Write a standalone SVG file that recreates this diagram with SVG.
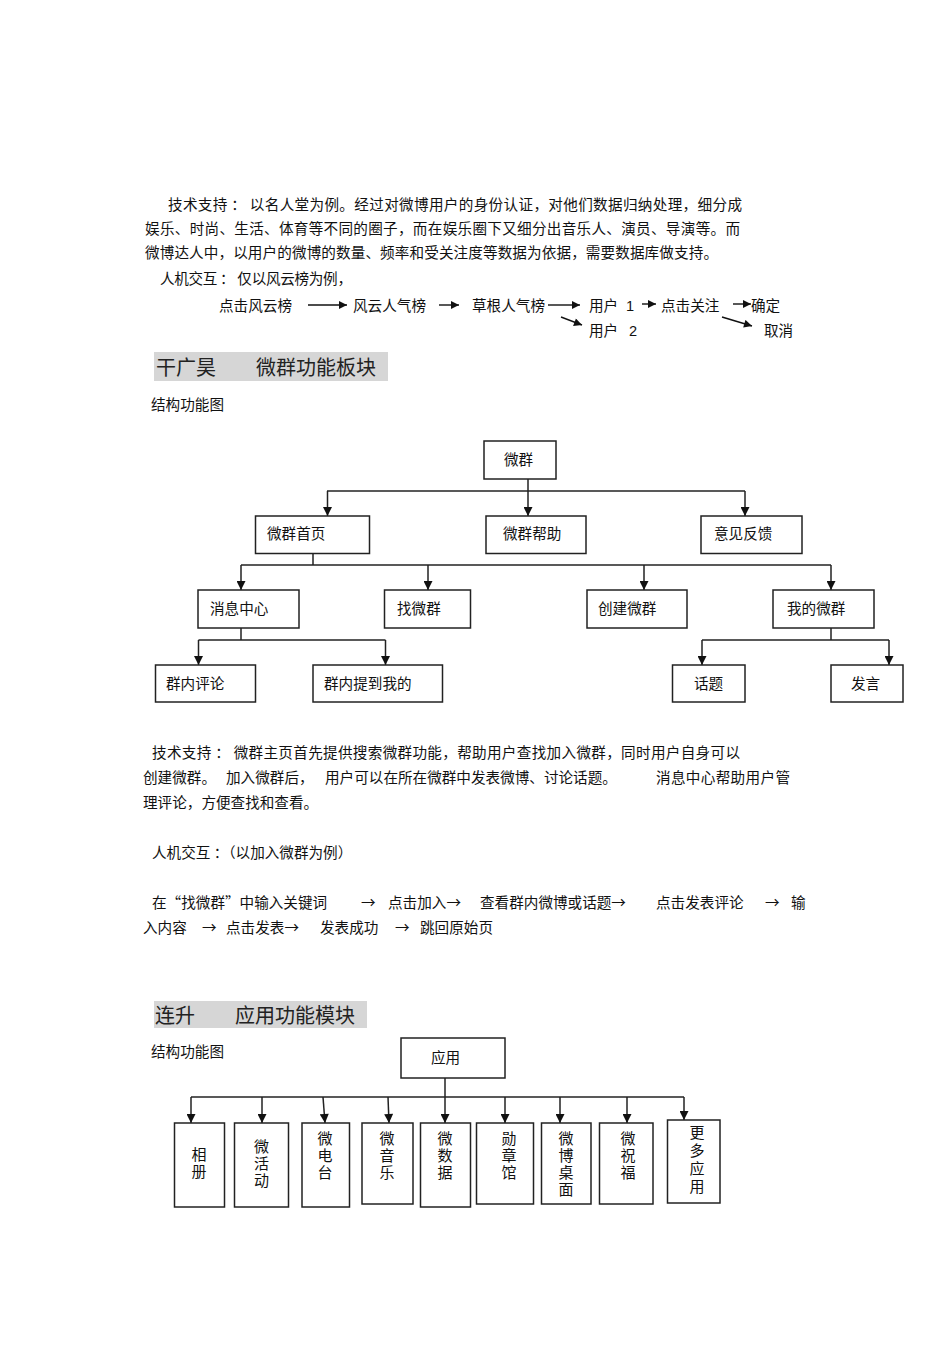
<svg xmlns="http://www.w3.org/2000/svg" width="950" height="1345" viewBox="0 0 950 1345">
<style>
  .t{font-family:"Liberation Sans","Noto Sans CJK SC",sans-serif;font-size:14.6px;fill:#111}
  .c{font-family:"Noto Sans CJK SC","Liberation Sans",sans-serif;font-size:14.6px;fill:#111}
  .h{font-family:"Noto Sans CJK SC",sans-serif;font-size:20px;fill:#222}
  .v{font-family:"Noto Sans CJK SC",sans-serif;font-size:15px;fill:#111;writing-mode:vertical-rl;letter-spacing:2px}
  .box{fill:#fff;stroke:#222;stroke-width:1.5}
  .ln{fill:none;stroke:#222;stroke-width:1.5}
  .fl{fill:none;stroke:#111;stroke-width:1.4}
  .hd{fill:#d6d6d6}
</style>
<defs>
  <marker id="ah" viewBox="0 0 10 10" refX="10" refY="5" markerWidth="11" markerHeight="9" markerUnits="userSpaceOnUse" orient="auto">
    <path d="M0,0 L10,5 L0,10 Z" fill="#111"/>
  </marker>
  <marker id="fa" viewBox="0 0 10 10" refX="10" refY="5" markerWidth="9" markerHeight="8" markerUnits="userSpaceOnUse" orient="auto">
    <path d="M0,0 L10,5 L0,10 Z" fill="#111"/>
  </marker>
</defs>

<!-- Paragraph 1 -->
<g id="para1">
  <text class="c" x="168" y="209.5" textLength="574" lengthAdjust="spacing">技术支持 ： 以名人堂为例。经过对微博用户的身份认证，对他们数据归纳处理，细分成</text>
  <text class="c" x="145" y="233.5" textLength="595" lengthAdjust="spacing">娱乐、时尚、生活、体育等不同的圈子，而在娱乐圈下又细分出音乐人、演员、导演等。而</text>
  <text class="c" x="145" y="257.5" textLength="573" lengthAdjust="spacing">微博达人中，以用户的微博的数量、频率和受关注度等数据为依据，需要数据库做支持。</text>
  <text class="c" x="160" y="283.5" textLength="192" lengthAdjust="spacing">人机交互 ： 仅以风云榜为例，</text>
</g>

<!-- Flow 1 -->
<g id="flow1">
  <text class="c" x="219" y="310.5">点击风云榜</text>
  <text class="c" x="353" y="310.5">风云人气榜</text>
  <text class="c" x="472" y="310.5">草根人气榜</text>
  <text class="c" x="589" y="310.5">用户</text>
  <text class="t" x="626" y="310.5">1</text>
  <text class="c" x="661" y="310.5">点击关注</text>
  <text class="c" x="751" y="310.5">确定</text>
  <text class="c" x="589" y="336">用户</text>
  <text class="t" x="629" y="336">2</text>
  <text class="c" x="764" y="336">取消</text>
</g>
<g id="flow1-arrows">
  <line class="fl" x1="308" y1="305" x2="347" y2="305" marker-end="url(#fa)"/>
  <line class="fl" x1="439" y1="305" x2="459" y2="305" marker-end="url(#fa)"/>
  <line class="fl" x1="548" y1="305" x2="580" y2="305" marker-end="url(#fa)"/>
  <line class="fl" x1="642" y1="304" x2="656" y2="304" marker-end="url(#fa)"/>
  <line class="fl" x1="733" y1="304" x2="751" y2="304" marker-end="url(#fa)"/>
  <line class="fl" x1="561" y1="317" x2="582" y2="325" marker-end="url(#fa)"/>
  <line class="fl" x1="722" y1="317" x2="752" y2="326" marker-end="url(#fa)"/>
</g>

<!-- Header 1 -->
<g id="header1">
  <rect class="hd" x="154" y="352" width="234" height="29"/>
  <text class="h" x="156" y="374.5">干广昊　　微群功能板块</text>
</g>
<text class="c" x="151" y="410">结构功能图</text>

<!-- Tree 1 connectors -->
<g id="connectors1">
  <line class="ln" x1="528" y1="479" x2="528" y2="491"/>
  <line class="ln" x1="327" y1="491" x2="745" y2="491"/>
  <line class="ln" x1="327.5" y1="491" x2="327.5" y2="516" marker-end="url(#ah)"/>
  <line class="ln" x1="528" y1="491" x2="528" y2="516" marker-end="url(#ah)"/>
  <line class="ln" x1="745" y1="491" x2="745" y2="516" marker-end="url(#ah)"/>

  <line class="ln" x1="313" y1="554" x2="313" y2="565"/>
  <line class="ln" x1="241" y1="565" x2="831" y2="565"/>
  <line class="ln" x1="241" y1="565" x2="241" y2="590" marker-end="url(#ah)"/>
  <line class="ln" x1="428" y1="565" x2="428" y2="590" marker-end="url(#ah)"/>
  <line class="ln" x1="644" y1="565" x2="644" y2="590" marker-end="url(#ah)"/>
  <line class="ln" x1="831" y1="565" x2="831" y2="590" marker-end="url(#ah)"/>

  <line class="ln" x1="241" y1="628" x2="241" y2="640"/>
  <line class="ln" x1="198.5" y1="640" x2="385.5" y2="640"/>
  <line class="ln" x1="198.5" y1="640" x2="198.5" y2="665" marker-end="url(#ah)"/>
  <line class="ln" x1="385.5" y1="640" x2="385.5" y2="665" marker-end="url(#ah)"/>

  <line class="ln" x1="831" y1="628" x2="831" y2="640"/>
  <line class="ln" x1="702" y1="640" x2="889" y2="640"/>
  <line class="ln" x1="702" y1="640" x2="702" y2="665" marker-end="url(#ah)"/>
  <line class="ln" x1="889" y1="640" x2="889" y2="665" marker-end="url(#ah)"/>
</g>

<!-- Tree 1 nodes -->
<g id="n-weiqun"><rect class="box" x="484" y="441" width="72" height="38"/><text class="c" x="504" y="464.5">微群</text></g>
<g id="n-shouye"><rect class="box" x="255.5" y="516" width="114" height="37.5"/><text class="c" x="267" y="538.5">微群首页</text></g>
<g id="n-bangzhu"><rect class="box" x="486" y="516" width="100" height="37.5"/><text class="c" x="503" y="538.5">微群帮助</text></g>
<g id="n-fankui"><rect class="box" x="701" y="516" width="101" height="37.5"/><text class="c" x="714" y="538.5">意见反馈</text></g>
<g id="n-xiaoxi"><rect class="box" x="198" y="590" width="101" height="38"/><text class="c" x="210" y="613.5">消息中心</text></g>
<g id="n-zhao"><rect class="box" x="384.5" y="590" width="86" height="38"/><text class="c" x="397" y="613.5">找微群</text></g>
<g id="n-chuangjian"><rect class="box" x="587" y="590" width="100" height="38"/><text class="c" x="598" y="613.5">创建微群</text></g>
<g id="n-wode"><rect class="box" x="773" y="590" width="101" height="38"/><text class="c" x="787" y="613.5">我的微群</text></g>
<g id="n-pinglun"><rect class="box" x="155.5" y="665" width="100" height="37"/><text class="c" x="166" y="689">群内评论</text></g>
<g id="n-tidao"><rect class="box" x="313" y="665" width="129.5" height="37"/><text class="c" x="324" y="689">群内提到我的</text></g>
<g id="n-huati"><rect class="box" x="672.5" y="665" width="72.5" height="37"/><text class="c" x="694" y="689">话题</text></g>
<g id="n-fayan"><rect class="box" x="831" y="665" width="72" height="37"/><text class="c" x="851" y="689">发言</text></g>

<!-- Paragraph 2 -->
<g id="para2">
  <text class="c" x="152" y="757.5" textLength="588" lengthAdjust="spacing">技术支持 ： 微群主页首先提供搜索微群功能，帮助用户查找加入微群，同时用户自身可以</text>
  <text class="c" x="143" y="782.5">创建微群。</text>
  <text class="c" x="226" y="782.5">加入微群后，</text>
  <text class="c" x="325" y="782.5">用户可以在所在微群中发表微博、讨论话题。</text>
  <text class="c" x="656" y="782.5" textLength="134" lengthAdjust="spacing">消息中心帮助用户管</text>
  <text class="c" x="143" y="807.5">理评论，方便查找和查看。</text>
  <text class="c" x="152" y="857.5">人机交互 ：（以加入微群为例）</text>
  <text class="c" x="152" y="907.5">在“找微群”中输入关键词</text>
  <text class="c" x="361" y="907.5">→</text>
  <text class="c" x="388" y="907.5">点击加入→</text>
  <text class="c" x="480" y="907.5">查看群内微博或话题→</text>
  <text class="c" x="656" y="907.5">点击发表评论</text>
  <text class="c" x="765" y="907.5">→</text>
  <text class="c" x="791" y="907.5">输</text>
  <text class="c" x="143" y="932.5">入内容</text>
  <text class="c" x="202" y="932.5">→</text>
  <text class="c" x="226" y="932.5">点击发表→</text>
  <text class="c" x="320" y="932.5">发表成功</text>
  <text class="c" x="395" y="932.5">→</text>
  <text class="c" x="420" y="932.5">跳回原始页</text>
</g>

<!-- Header 2 -->
<g id="header2">
  <rect class="hd" x="154" y="1001" width="213" height="27"/>
  <text class="h" x="155" y="1022.5">连升　　应用功能模块</text>
</g>
<text class="c" x="151" y="1057">结构功能图</text>

<!-- Tree 2 connectors -->
<g id="connectors2">
  <line class="ln" x1="445" y1="1078" x2="445" y2="1097"/>
  <line class="ln" x1="191" y1="1097" x2="684" y2="1097"/>
  <line class="ln" x1="191" y1="1097" x2="191" y2="1123" marker-end="url(#ah)"/>
  <line class="ln" x1="262" y1="1097" x2="262" y2="1123" marker-end="url(#ah)"/>
  <line class="ln" x1="323" y1="1097" x2="325" y2="1123" marker-end="url(#ah)"/>
  <line class="ln" x1="388" y1="1097" x2="389" y2="1123" marker-end="url(#ah)"/>
  <line class="ln" x1="445" y1="1097" x2="445" y2="1123" marker-end="url(#ah)"/>
  <line class="ln" x1="505" y1="1097" x2="505" y2="1123" marker-end="url(#ah)"/>
  <line class="ln" x1="560" y1="1097" x2="560" y2="1123" marker-end="url(#ah)"/>
  <line class="ln" x1="627" y1="1097" x2="627" y2="1123" marker-end="url(#ah)"/>
  <line class="ln" x1="684" y1="1097" x2="684" y2="1120" marker-end="url(#ah)"/>
</g>

<!-- Tree 2 nodes -->
<g id="n-yingyong"><rect class="box" x="401" y="1038" width="104" height="40"/><text class="c" x="431" y="1063">应用</text></g>
<g id="n-xiangce"><rect class="box" x="174.5" y="1123" width="50" height="84"/>
  <text class="v" x="199" y="1146.5">相册</text></g>
<g id="n-huodong"><rect class="box" x="234.5" y="1123" width="54" height="84"/>
  <text class="v" x="261.5" y="1138.5">微活动</text></g>
<g id="n-diantai"><rect class="box" x="302" y="1123" width="47.5" height="84"/>
  <text class="v" x="325" y="1130.5">微电台</text></g>
<g id="n-yinyue"><rect class="box" x="362" y="1123" width="51" height="81"/>
  <text class="v" x="387" y="1130.5">微音乐</text></g>
<g id="n-shuju"><rect class="box" x="420.5" y="1123" width="50" height="84"/>
  <text class="v" x="445" y="1130.5">微数据</text></g>
<g id="n-xunzhang"><rect class="box" x="476.5" y="1123" width="57" height="81"/>
  <text class="v" x="509" y="1130.5">勋章馆</text></g>
<g id="n-zhuomian"><rect class="box" x="541.5" y="1123" width="49.5" height="81"/>
  <text class="v" x="566" y="1130.5">微博桌面</text></g>
<g id="n-zhufu"><rect class="box" x="599.5" y="1123" width="53.5" height="81"/>
  <text class="v" x="628" y="1130.5">微祝福</text></g>
<g id="n-gengduo"><rect class="box" x="667.5" y="1120" width="52.5" height="83"/>
  <text class="v" x="697" y="1124.5" style="letter-spacing:3px">更多应用</text></g>
</svg>
